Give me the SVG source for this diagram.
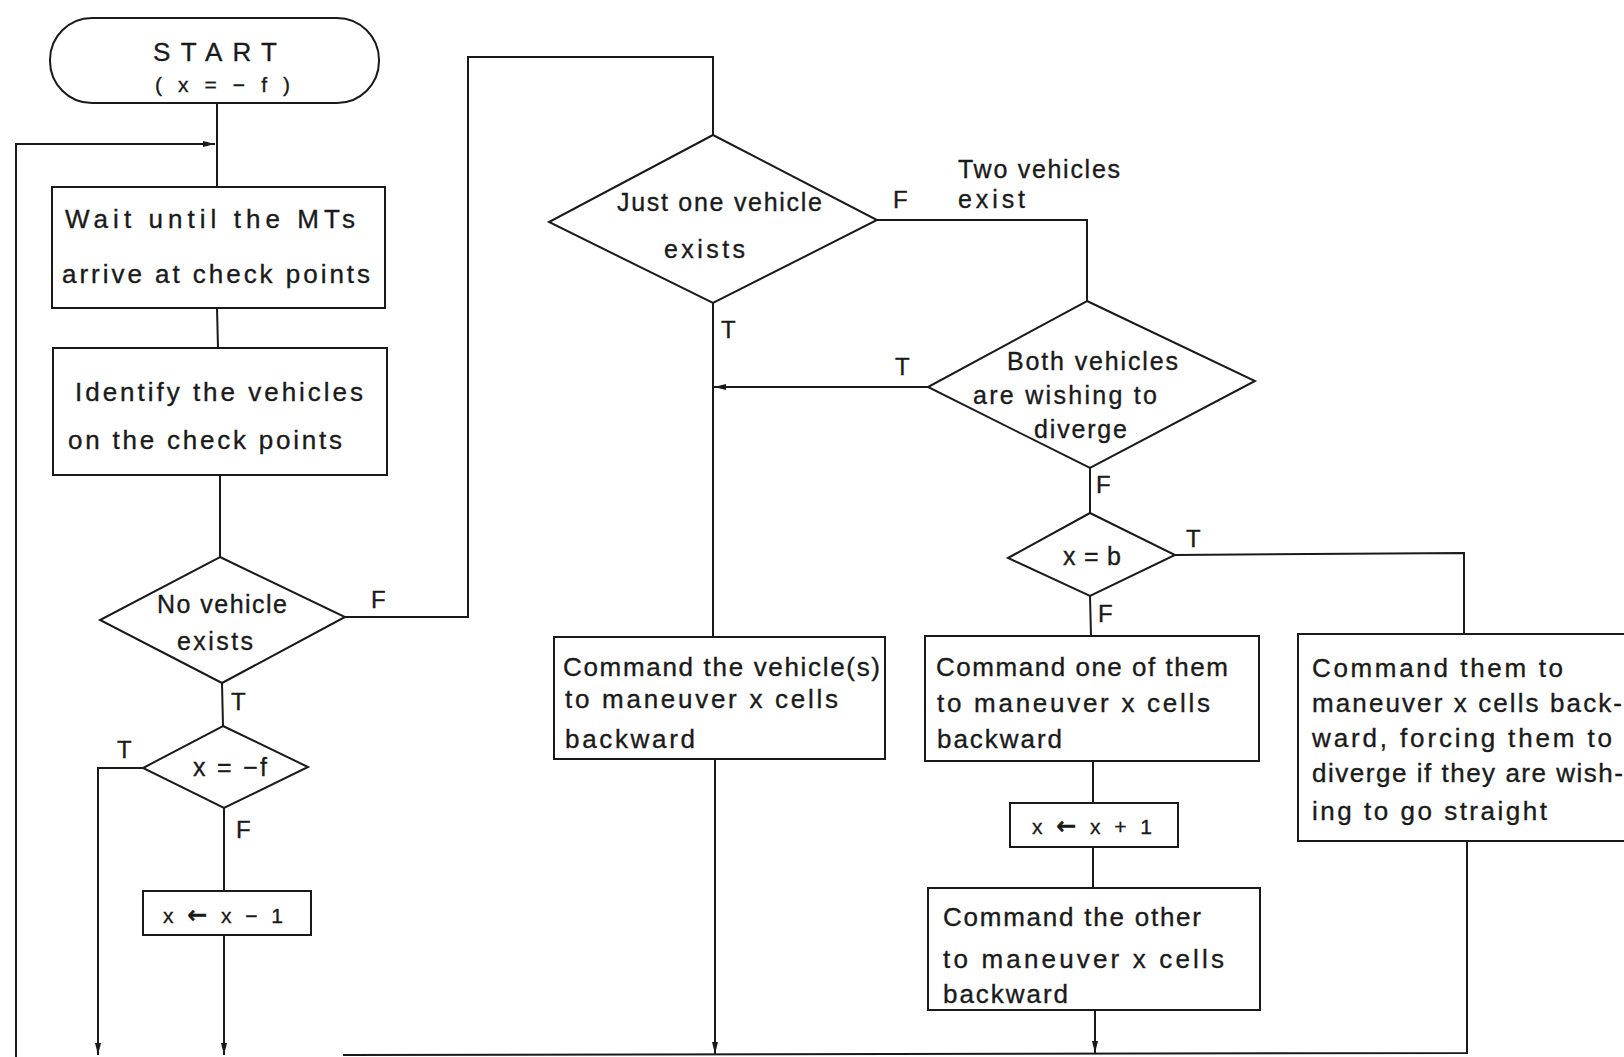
<svg xmlns="http://www.w3.org/2000/svg" width="1624" height="1057" viewBox="0 0 1624 1057">
<style>
.shape{fill:#fff;stroke:#1a1a1a;stroke-width:2}
.line{fill:none;stroke:#1a1a1a;stroke-width:2}
text{font-family:"Liberation Sans","DejaVu Sans",Arial,sans-serif;fill:#1a1a1a;stroke:#1a1a1a;stroke-width:0.35}
.t{font-size:26px}
.d{font-size:25px}
.lbl{font-size:24px}
.small{font-size:21px}
.ar{font-family:"DejaVu Sans",sans-serif;font-size:24px;font-weight:bold}
</style>
<defs>
<marker id="arr" markerUnits="userSpaceOnUse" markerWidth="13" markerHeight="8" refX="12" refY="4" orient="auto">
<path d="M0,1 L12,4 L0,7 z" fill="#1a1a1a"/>
</marker>
</defs>
<rect width="1624" height="1057" fill="#fff"/>

<g id="connectors">
<line class="line" x1="217" y1="103" x2="217" y2="187"/>
<polyline class="line" points="16,1057 16,144 215,144" marker-end="url(#arr)"/>
<line class="line" x1="217" y1="308" x2="218" y2="348"/>
<line class="line" x1="220" y1="475" x2="220" y2="557"/>
<polyline class="line" points="345,617 468,617 468,57 713,57 713,135"/>
<line class="line" x1="222" y1="683" x2="223" y2="726"/>
<polyline class="line" points="143,768 98,768 98,1055" marker-end="url(#arr)"/>
<line class="line" x1="224" y1="808" x2="224" y2="891"/>
<line class="line" x1="224" y1="935" x2="224" y2="1055" marker-end="url(#arr)"/>
<polyline class="line" points="877,220 1087,220 1087,301"/>
<line class="line" x1="713" y1="303" x2="713" y2="636"/>
<line class="line" x1="928" y1="387" x2="714" y2="387" marker-end="url(#arr)"/>
<line class="line" x1="1090" y1="468" x2="1090" y2="513"/>
<polyline class="line" points="1175,555 1464,553 1464,634"/>
<line class="line" x1="1090" y1="596" x2="1091" y2="636"/>
<line class="line" x1="1093" y1="761" x2="1093" y2="803"/>
<line class="line" x1="1093" y1="847" x2="1093" y2="888"/>
<line class="line" x1="715" y1="759" x2="715" y2="1054" marker-end="url(#arr)"/>
<line class="line" x1="1095" y1="1010" x2="1095" y2="1053" marker-end="url(#arr)"/>
<polyline class="line" points="343,1055 1467,1053 1467,841"/>
</g>

<g id="start">
<rect class="shape" x="50" y="18" width="329" height="85" rx="42" ry="42"/>
<text x="153" y="61" style="font-size:26px" textLength="124" lengthAdjust="spacing">START</text>
<text x="155" y="92" class="small" textLength="135" lengthAdjust="spacing">( x = − f )</text>
</g>

<g id="wait">
<rect class="shape" x="52" y="187" width="333" height="121"/>
<text class="t" x="65" y="228" textLength="290" lengthAdjust="spacing">Wait until the MTs</text>
<text class="t" x="62" y="283" textLength="308" lengthAdjust="spacing">arrive at check points</text>
</g>

<g id="identify">
<rect class="shape" x="53" y="348" width="334" height="127"/>
<text class="t" x="75" y="401" textLength="288" lengthAdjust="spacing">Identify the vehicles</text>
<text class="t" x="68" y="449" textLength="274" lengthAdjust="spacing">on the check points</text>
</g>

<g id="no-vehicle">
<polygon class="shape" points="220,557 345,617 222,683 100,620"/>
<text class="d" x="157" y="613" textLength="130" lengthAdjust="spacing">No vehicle</text>
<text class="d" x="177" y="650" textLength="76" lengthAdjust="spacing">exists</text>
<text class="lbl" x="371" y="608">F</text>
<text class="lbl" x="231" y="710">T</text>
</g>

<g id="x-eq-minus-f">
<polygon class="shape" points="223,726 308,767 224,808 143,768"/>
<text class="d" x="193" y="776" textLength="74" lengthAdjust="spacing">x = −f</text>
<text class="lbl" x="117" y="758">T</text>
<text class="lbl" x="236" y="838">F</text>
</g>

<g id="x-dec">
<rect class="shape" x="143" y="891" width="168" height="44"/>
<text class="small" x="163" y="923" textLength="120" lengthAdjust="spacing">x <tspan class="ar">←</tspan> x − 1</text>
</g>

<g id="just-one">
<polygon class="shape" points="713,135 877,220 713,303 549,222"/>
<text class="d" x="617" y="211" textLength="205" lengthAdjust="spacing">Just one vehicle</text>
<text class="d" x="664" y="258" textLength="81" lengthAdjust="spacing">exists</text>
<text class="lbl" x="893" y="208">F</text>
<text class="lbl" x="721" y="338">T</text>
<text class="d" x="958" y="178" textLength="162" lengthAdjust="spacing">Two vehicles</text>
<text class="d" x="958" y="208" textLength="67" lengthAdjust="spacing">exist</text>
</g>

<g id="both">
<polygon class="shape" points="1087,301 1255,381 1090,468 928,387"/>
<text class="d" x="1007" y="370" textLength="171" lengthAdjust="spacing">Both vehicles</text>
<text class="d" x="973" y="404" textLength="184" lengthAdjust="spacing">are wishing to</text>
<text class="d" x="1034" y="438" textLength="93" lengthAdjust="spacing">diverge</text>
<text class="lbl" x="895" y="375">T</text>
<text class="lbl" x="1096" y="493">F</text>
</g>

<g id="x-eq-b">
<polygon class="shape" points="1090,513 1175,555 1090,596 1008,558"/>
<text class="d" x="1063" y="565" textLength="58" lengthAdjust="spacing">x = b</text>
<text class="lbl" x="1186" y="547">T</text>
<text class="lbl" x="1098" y="622">F</text>
</g>

<g id="cmd-vehicles">
<rect class="shape" x="554" y="637" width="331" height="122"/>
<text class="t" x="563" y="676" textLength="317" lengthAdjust="spacing">Command the vehicle(s)</text>
<text class="t" x="565" y="708" textLength="273" lengthAdjust="spacing">to maneuver  x cells</text>
<text class="t" x="565" y="748" textLength="130" lengthAdjust="spacing">backward</text>
</g>

<g id="cmd-one">
<rect class="shape" x="925" y="636" width="334" height="125"/>
<text class="t" x="936" y="676" textLength="292" lengthAdjust="spacing">Command one of them</text>
<text class="t" x="937" y="712" textLength="273" lengthAdjust="spacing">to maneuver  x cells</text>
<text class="t" x="937" y="748" textLength="125" lengthAdjust="spacing">backward</text>
</g>

<g id="x-inc">
<rect class="shape" x="1010" y="803" width="168" height="44"/>
<text class="small" x="1032" y="834" textLength="120" lengthAdjust="spacing">x <tspan class="ar">←</tspan> x + 1</text>
</g>

<g id="cmd-other">
<rect class="shape" x="928" y="888" width="332" height="122"/>
<text class="t" x="943" y="926" textLength="258" lengthAdjust="spacing">Command the other</text>
<text class="t" x="943" y="968" textLength="281" lengthAdjust="spacing">to maneuver  x cells</text>
<text class="t" x="943" y="1003" textLength="125" lengthAdjust="spacing">backward</text>
</g>

<g id="cmd-them">
<rect class="shape" x="1298" y="634" width="340" height="207"/>
<text class="t" x="1312" y="677" textLength="251" lengthAdjust="spacing">Command them to</text>
<text class="t" x="1312" y="712" textLength="310" lengthAdjust="spacing">maneuver  x cells back-</text>
<text class="t" x="1312" y="747" textLength="300" lengthAdjust="spacing">ward, forcing them to</text>
<text class="t" x="1312" y="782" textLength="311" lengthAdjust="spacing">diverge if they are wish-</text>
<text class="t" x="1312" y="820" textLength="235" lengthAdjust="spacing">ing to go straight</text>
</g>
</svg>
